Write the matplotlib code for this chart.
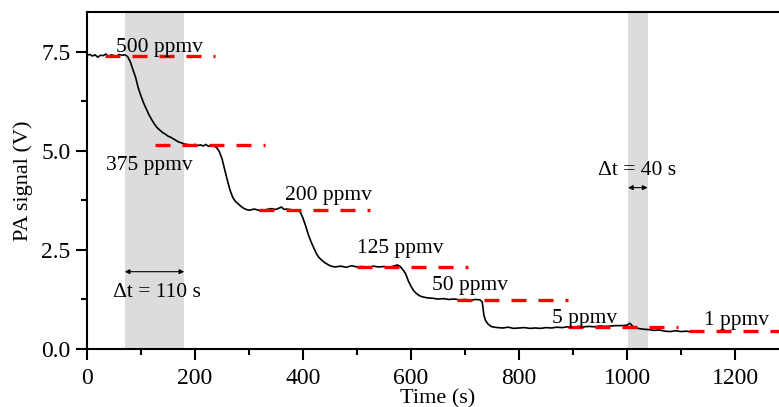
import matplotlib
matplotlib.use("Agg")
import matplotlib.pyplot as plt
from matplotlib.ticker import MultipleLocator

plt.rcParams['font.family'] = ['Liberation Serif', 'DejaVu Serif']

# PA-Signal
time_s = [0, 5, 10, 15, 20, 25, 30, 35, 40, 45, 50, 55, 60, 65, 70, 75,
          80, 85, 90, 95, 100, 105, 110, 115, 120, 125, 130, 135, 140, 145,
          150, 155, 160, 165, 170, 175, 180, 185, 190, 195, 200, 205, 210,
          215, 220, 225, 230, 235, 240, 245, 250, 255, 260, 265, 270, 275,
          280, 285, 290, 295, 300, 310, 320, 330, 340, 350, 355, 360, 365,
          370, 380, 390, 395, 400, 405, 410, 415, 420, 425, 430, 435, 440,
          445, 450, 455, 460, 470, 480, 490, 500, 510, 520, 530, 540, 550,
          560, 570, 575, 580, 585, 590, 595, 600, 605, 610, 615, 620, 630,
          640, 650, 660, 670, 680, 690, 700, 710, 720, 728, 732, 735, 738,
          742, 746, 750, 760, 770, 780, 790, 800, 810, 820, 830, 840, 850,
          860, 870, 880, 890, 900, 910, 920, 930, 940, 950, 960, 970, 980,
          990, 1000, 1005, 1010, 1015, 1020, 1030, 1040, 1050, 1060, 1070,
          1080, 1090, 1100, 1110, 1120, 1125]
signal_v = [7.41, 7.43, 7.39, 7.42, 7.36, 7.41, 7.40, 7.44, 7.38, 7.42,
            7.40, 7.39, 7.43, 7.41, 7.42, 7.38, 7.25, 7.05, 6.85, 6.58,
            6.38, 6.20, 6.05, 5.90, 5.78, 5.67, 5.58, 5.52, 5.46, 5.42,
            5.37, 5.34, 5.30, 5.26, 5.22, 5.20, 5.17, 5.16, 5.15, 5.14,
            5.16, 5.13, 5.15, 5.12, 5.16, 5.11, 5.14, 5.12, 5.08, 4.98,
            4.80, 4.52, 4.25, 4.00, 3.82, 3.72, 3.66, 3.60, 3.55, 3.52,
            3.50, 3.53, 3.49, 3.51, 3.54, 3.52, 3.55, 3.58, 3.52, 3.53,
            3.51, 3.50, 3.45, 3.30, 3.10, 2.88, 2.70, 2.55, 2.40, 2.30,
            2.24, 2.18, 2.14, 2.10, 2.08, 2.07, 2.09, 2.06, 2.10, 2.07,
            2.08, 2.05, 2.09, 2.07, 2.08, 2.06, 2.10, 2.12, 2.08, 2.00,
            1.90, 1.72, 1.58, 1.47, 1.40, 1.35, 1.32, 1.29, 1.28, 1.26,
            1.27, 1.25, 1.26, 1.24, 1.25, 1.23, 1.25, 1.24, 1.18, 0.85,
            0.72, 0.64, 0.59, 0.56, 0.54, 0.53, 0.55, 0.52, 0.53, 0.54,
            0.52, 0.53, 0.52, 0.54, 0.53, 0.55, 0.54, 0.56, 0.55, 0.57,
            0.56, 0.57, 0.56, 0.58, 0.57, 0.58, 0.59, 0.59, 0.60, 0.65,
            0.58, 0.54, 0.52, 0.50, 0.49, 0.47, 0.48, 0.45, 0.44, 0.46,
            0.44, 0.45, 0.43, 0.44]

# Konzentrationsstufen: Beschriftung, Pegel, Start, Ende, Textposition
stufen_label = ['500 ppmv', '375 ppmv', '200 ppmv', '125 ppmv', '50 ppmv',
                '5 ppmv', '1 ppmv']
stufen_pegel = [7.39, 5.14, 3.51, 2.08, 1.24, 0.56, 0.45]
stufen_start = [33, 126, 318, 500, 685, 890, 1115]
stufen_ende = [237, 330, 524, 706, 890, 1095, 1300]
text_x = [135, 115, 448, 581, 709, 921, 1203]
text_y = [7.50, 4.52, 3.76, 2.42, 1.49, 0.66, 0.61]

# Ansprechzeiten (grau hinterlegt)
dt_start = [70, 1002]
dt_ende = [180, 1038]
dt_text = ['Δt = 110 s', 'Δt = 40 s']
dt_text_x = [129, 1018]
dt_text_y = [1.32, 4.39]
dt_pfeil_y = [1.95, 4.07]


def main():
    fig = plt.figure(figsize=(7.79, 4.07), dpi=100)
    ax = fig.add_axes([87 / 779, 58 / 407, 702 / 779, 337 / 407])

    for a, b in zip(dt_start, dt_ende):
        ax.axvspan(a, b, color='#dcdcdc', lw=0, zorder=0)

    ax.plot(time_s, signal_v, color='black', lw=1.2, zorder=3)

    for pegel, a, b in zip(stufen_pegel, stufen_start, stufen_ende):
        ax.plot([a, b], [pegel, pegel], color='red', lw=2.4,
                dashes=(4.5, 3.6), zorder=4)

    for lab, x, y in zip(stufen_label, text_x, text_y):
        ax.text(x, y, lab, fontsize=15.5, ha='center', va='baseline', zorder=5)

    for a, b, t, tx, ty, py in zip(dt_start, dt_ende, dt_text, dt_text_x,
                                   dt_text_y, dt_pfeil_y):
        ax.annotate('', xy=(a, py), xytext=(b, py),
                    arrowprops=dict(arrowstyle='<|-|>', color='black', lw=0.8,
                                    mutation_scale=7, shrinkA=0, shrinkB=0))
        ax.text(tx, ty, t, fontsize=15.5, ha='center', va='baseline')

    ax.set_xlim(0, 1300)
    ax.set_ylim(0, 8.5)
    ax.xaxis.set_major_locator(MultipleLocator(200))
    ax.xaxis.set_minor_locator(MultipleLocator(100))
    ax.yaxis.set_major_locator(MultipleLocator(2.5))
    ax.yaxis.set_minor_locator(MultipleLocator(1.25))
    ax.yaxis.set_major_formatter(plt.FormatStrFormatter('%.1f'))

    ax.tick_params(which='major', direction='out', length=8, width=1.5,
                   labelsize=17)
    ax.tick_params(axis='x', which='major', pad=6)
    ax.tick_params(axis='y', which='major', pad=4)
    ax.tick_params(which='minor', direction='out', length=4.5, width=1.5)
    ax.tick_params(top=False, right=False)

    for s in ax.spines.values():
        s.set_linewidth(1.5)

    ax.set_xlabel('Time (s)', fontsize=16, labelpad=-0.5)
    ax.set_ylabel('PA signal (V)', fontsize=16, labelpad=6)

    fig.savefig('out.png', dpi=100)


if __name__ == "__main__":
    main()
